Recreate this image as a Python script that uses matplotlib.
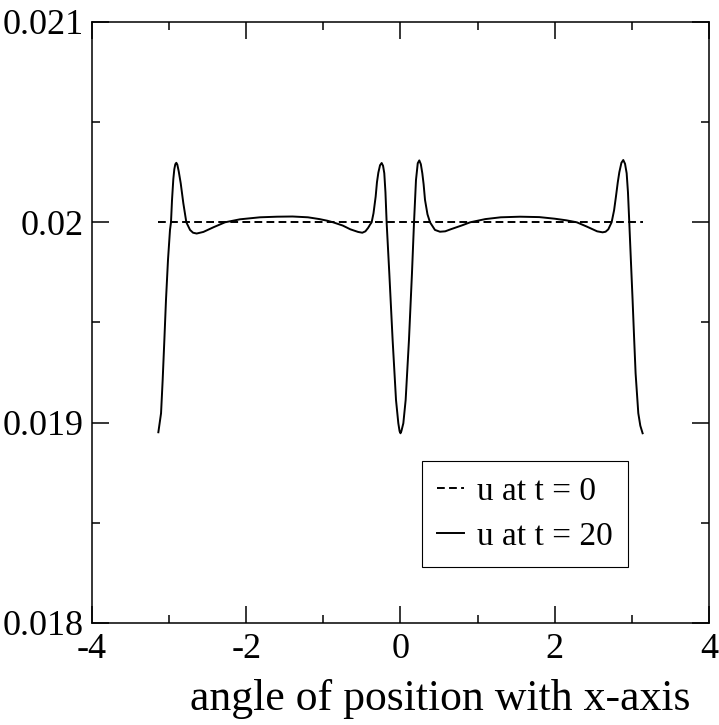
import numpy as np
import matplotlib
matplotlib.use('Agg')
import matplotlib.pyplot as plt
from matplotlib.ticker import MultipleLocator, FuncFormatter

# u at t = 0 (flat initial state)
x0 = [-3.14, 3.14]
u0 = [0.02, 0.02]

# u at t = 20
x20 = [-3.14, -3.105, -3.084, -3.062, -3.041, -3.015, -2.989, -2.976, -2.963,
       -2.946, -2.933, -2.920, -2.907, -2.894, -2.876, -2.850, -2.816, -2.777,
       -2.729, -2.690, -2.643, -2.556, -2.427, -2.276, -2.081, -1.822, -1.6,
       -1.4, -1.2, -1.05, -0.95, -0.874, -0.75, -0.65, -0.55, -0.495, -0.455,
       -0.420, -0.395, -0.374, -0.350, -0.322, -0.305, -0.287, -0.265, -0.244,
       -0.226, -0.210, -0.195, -0.179, -0.145, -0.102, -0.058, -0.028, -0.012,
       0.0, 0.012, 0.037, 0.067, 0.110, 0.149, 0.175, 0.201, 0.224, 0.244,
       0.264, 0.283, 0.300, 0.318, 0.350, 0.383, 0.447, 0.512, 0.58, 0.65,
       0.8, 0.903, 1.1, 1.3, 1.55, 1.8, 2.0, 2.15, 2.287, 2.42, 2.55, 2.621,
       2.660, 2.695, 2.738, 2.770, 2.794, 2.818, 2.838, 2.865, 2.889, 2.912,
       2.933, 2.950, 2.967, 2.989, 3.010, 3.030, 3.049, 3.084, 3.110, 3.14]
u20 = [0.018952, 0.019047, 0.019213, 0.019413, 0.019612, 0.019812, 0.019962,
       0.020000, 0.020110, 0.020215, 0.020265, 0.020290, 0.020297, 0.020288,
       0.020255, 0.020195, 0.020095, 0.020000, 0.019962, 0.019948, 0.019944,
       0.019952, 0.019975, 0.0200, 0.020015, 0.020025, 0.020028, 0.020029,
       0.020025, 0.020016, 0.020008, 0.0200, 0.019984, 0.019965, 0.019952,
       0.019948, 0.019955, 0.019972, 0.019988, 0.0200, 0.020045, 0.020128,
       0.020200, 0.020248, 0.020285, 0.020296, 0.020282, 0.020245, 0.020150,
       0.019995, 0.019746, 0.019413, 0.019113, 0.018997, 0.018958, 0.018947,
       0.018958, 0.018997, 0.019113, 0.019413, 0.019746, 0.019995, 0.020211,
       0.020295, 0.020309, 0.020290, 0.020245, 0.020190, 0.020112, 0.020040,
       0.0200, 0.019962, 0.019953, 0.019955, 0.019965, 0.019985, 0.0200,
       0.020016, 0.020025, 0.020028, 0.020026, 0.020018, 0.020010, 0.0200,
       0.019978, 0.019955, 0.01995, 0.019953, 0.019965, 0.0200, 0.020060,
       0.020128, 0.020200, 0.020250, 0.020297, 0.020311, 0.020292, 0.020245,
       0.020150, 0.0200, 0.019800, 0.019612, 0.019420, 0.019246, 0.019047,
       0.018985, 0.018947]

plt.rcParams['font.family'] = ['Liberation Serif', 'DejaVu Serif']

fig = plt.figure(figsize=(7.19, 7.25), dpi=100)
ax = fig.add_axes([0.128, 0.1407, 0.858, 0.829])

ax.plot(x0, u0, color='black', lw=1.4, linestyle=(0, (4, 2.2)), label='u at t = 0')
ax.plot(x20, u20, color='black', lw=1.4, label='u at t = 20')

ax.set_xlim(-4, 4)
ax.set_ylim(0.018, 0.021)
ax.xaxis.set_major_locator(MultipleLocator(2))
ax.xaxis.set_minor_locator(MultipleLocator(1))
ax.yaxis.set_major_locator(MultipleLocator(0.001))
ax.yaxis.set_minor_locator(MultipleLocator(0.0005))
ax.xaxis.set_major_formatter(FuncFormatter(lambda v, p: '%g' % v))
ax.yaxis.set_major_formatter(FuncFormatter(lambda v, p: '%g' % round(v, 4)))

ax.tick_params(which='both', direction='in', top=True, right=True, width=1.1, labelsize=26)
ax.tick_params(which='major', length=12)
ax.tick_params(which='minor', length=5.5)
ax.tick_params(axis='x', pad=7)
ax.tick_params(axis='y', pad=6)
for s in ax.spines.values():
    s.set_linewidth(1.1)

ax.set_xlabel('angle of position with x-axis', fontsize=31.5)
ax.xaxis.set_label_coords(0.564, -0.093, transform=ax.transAxes)
ax.xaxis.label.set_va('top')

leg = ax.legend(loc='lower right', bbox_to_anchor=(0.8687, 0.093), fontsize=24,
                frameon=True, fancybox=False, framealpha=1, edgecolor='black',
                handlelength=0.8, handletextpad=0.4, borderpad=0.45,
                labelspacing=0.45, borderaxespad=0)
leg.get_frame().set_linewidth(0.8)

fig.savefig('out.png', dpi=100)
